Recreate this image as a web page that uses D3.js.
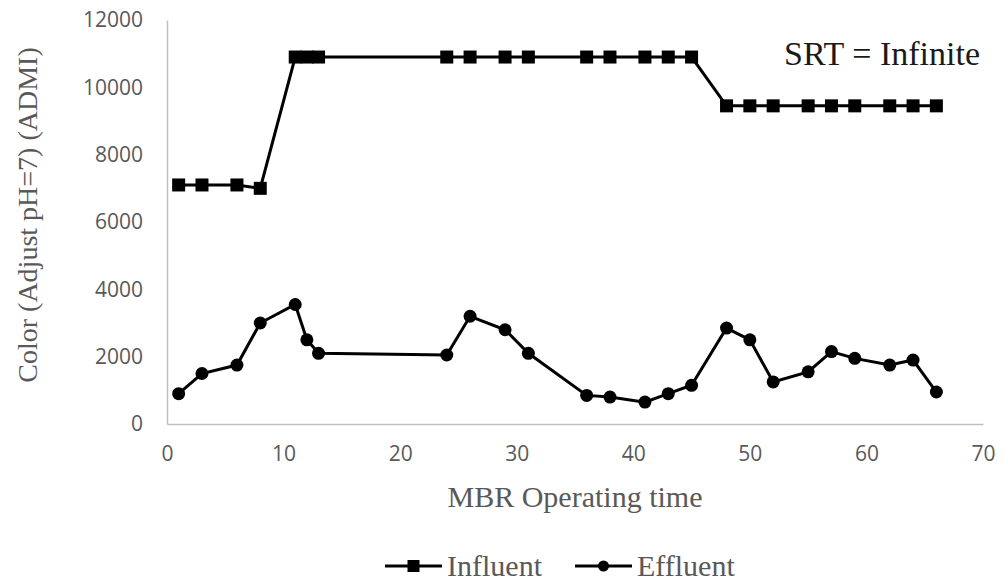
<!DOCTYPE html>
<html>
<head>
<meta charset="utf-8">
<script src="https://cdn.jsdelivr.net/npm/d3@7"></script>
<style>
  body { margin: 0; background: #fff; overflow: hidden; }
  svg { display: block; }
</style>
</head>
<body>
<svg id="chart"></svg>
<script>
// operating days (x), shared by both series
const days = [1, 3, 6, 8, 11, 12, 13, 24, 26, 29, 31, 36, 38, 41, 43, 45, 48, 50, 52, 55, 57, 59, 62, 64, 66];
const influent = [7100, 7100, 7100, 7000, 10900, 10900, 10900, 10900, 10900, 10900, 10900,
    10900, 10900, 10900, 10900, 10900, 9450, 9450, 9450, 9450, 9450, 9450, 9450, 9450, 9450];
const effluent = [900, 1500, 1750, 3000, 3550, 2500, 2100, 2050, 3200, 2800, 2100,
    850, 800, 650, 900, 1150, 2850, 2500, 1250, 1550, 2150, 1950, 1750, 1900, 950];
const xTicks = [0, 10, 20, 30, 40, 50, 60, 70];
const yTicks = [0, 2000, 4000, 6000, 8000, 10000, 12000];
const seriesNames = ['Influent', 'Effluent'];

const width = 1005, height = 581;
const margin = { top: 20, right: 22, bottom: 157, left: 167 };
const innerWidth = width - margin.left - margin.right;
const innerHeight = height - margin.top - margin.bottom;

const svg = d3.select('#chart')
    .attr('width', width)
    .attr('height', height);

const g = svg.append('g')
    .attr('transform', `translate(${margin.left},${margin.top})`);

const x = d3.scaleLinear().domain([0, 70]).range([0, innerWidth]);
const y = d3.scaleLinear().domain([0, 12000]).range([innerHeight, 0]);

// axes
const styleAxis = sel => {
    sel.attr('font-family', '"Open Sans", sans-serif')
        .attr('font-size', 21);
    sel.select('.domain').attr('stroke', '#bfbfbf').attr('stroke-width', 1.5);
    sel.selectAll('.tick line').remove();
    sel.selectAll('.tick text').attr('fill', '#595959');
};

g.append('g')
    .attr('class', 'axis x-axis')
    .attr('transform', `translate(0,${innerHeight})`)
    .call(d3.axisBottom(x).tickValues(xTicks).tickFormat(d3.format('d'))
        .tickSize(0).tickSizeOuter(0).tickPadding(22))
    .call(styleAxis);

g.append('g')
    .attr('class', 'axis y-axis')
    .call(d3.axisLeft(y).tickValues(yTicks).tickFormat(d3.format('d'))
        .tickSize(0).tickSizeOuter(0).tickPadding(24))
    .call(styleAxis);

const line = d3.line()
    .x(d => x(d[0]))
    .y(d => y(d[1]));

const infPts = days.map((d, i) => [d, influent[i]]);
const effPts = days.map((d, i) => [d, effluent[i]]);

// series lines
g.append('path')
    .datum(infPts)
    .attr('d', line)
    .attr('fill', 'none')
    .attr('stroke', '#000')
    .attr('stroke-width', 3);

g.append('path')
    .datum(effPts)
    .attr('d', line)
    .attr('fill', 'none')
    .attr('stroke', '#000')
    .attr('stroke-width', 3);

// markers
const sq = 13;
g.selectAll('.inf-mark')
    .data(infPts)
    .join('rect')
    .attr('class', 'inf-mark')
    .attr('x', d => x(d[0]) - sq / 2)
    .attr('y', d => y(d[1]) - sq / 2)
    .attr('width', sq)
    .attr('height', sq)
    .attr('fill', '#000');

g.selectAll('.eff-mark')
    .data(effPts)
    .join('circle')
    .attr('class', 'eff-mark')
    .attr('cx', d => x(d[0]))
    .attr('cy', d => y(d[1]))
    .attr('r', 6.5)
    .attr('fill', '#000');

// annotation
svg.append('text')
    .attr('x', 980)
    .attr('y', 65)
    .attr('text-anchor', 'end')
    .attr('font-family', '"Liberation Serif", serif')
    .attr('font-size', '34px')
    .attr('fill', '#1a1a1a')
    .text('SRT = Infinite');

// axis titles
svg.append('text')
    .attr('x', 575)
    .attr('y', 507)
    .attr('text-anchor', 'middle')
    .attr('font-family', '"Liberation Serif", serif')
    .attr('font-size', '30px')
    .attr('fill', '#595959')
    .text('MBR Operating time');

svg.append('text')
    .attr('transform', 'translate(37,215) rotate(-90)')
    .attr('text-anchor', 'middle')
    .attr('font-family', '"Liberation Serif", serif')
    .attr('font-size', '28px')
    .attr('fill', '#595959')
    .text('Color (Adjust pH=7) (ADMI)');

// legend
const legend = svg.append('g').attr('transform', 'translate(385,566)');
const legendX = [0, 190];
seriesNames.forEach((name, i) => {
    const lg = legend.append('g').attr('transform', `translate(${legendX[i]},0)`);
    lg.append('line')
        .attr('x1', 0).attr('x2', 57)
        .attr('stroke', '#000')
        .attr('stroke-width', 3);
    if (i === 0) {
        lg.append('rect')
            .attr('x', 28.5 - 6).attr('y', -6)
            .attr('width', 12).attr('height', 12)
            .attr('fill', '#000');
    } else {
        lg.append('circle')
            .attr('cx', 28.5).attr('r', 5.5)
            .attr('fill', '#000');
    }
    lg.append('text')
        .attr('x', 62)
        .attr('y', 10)
        .attr('font-family', '"Liberation Serif", serif')
        .attr('font-size', '30px')
        .attr('fill', '#595959')
        .text(name);
});
</script>
</body>
</html>
